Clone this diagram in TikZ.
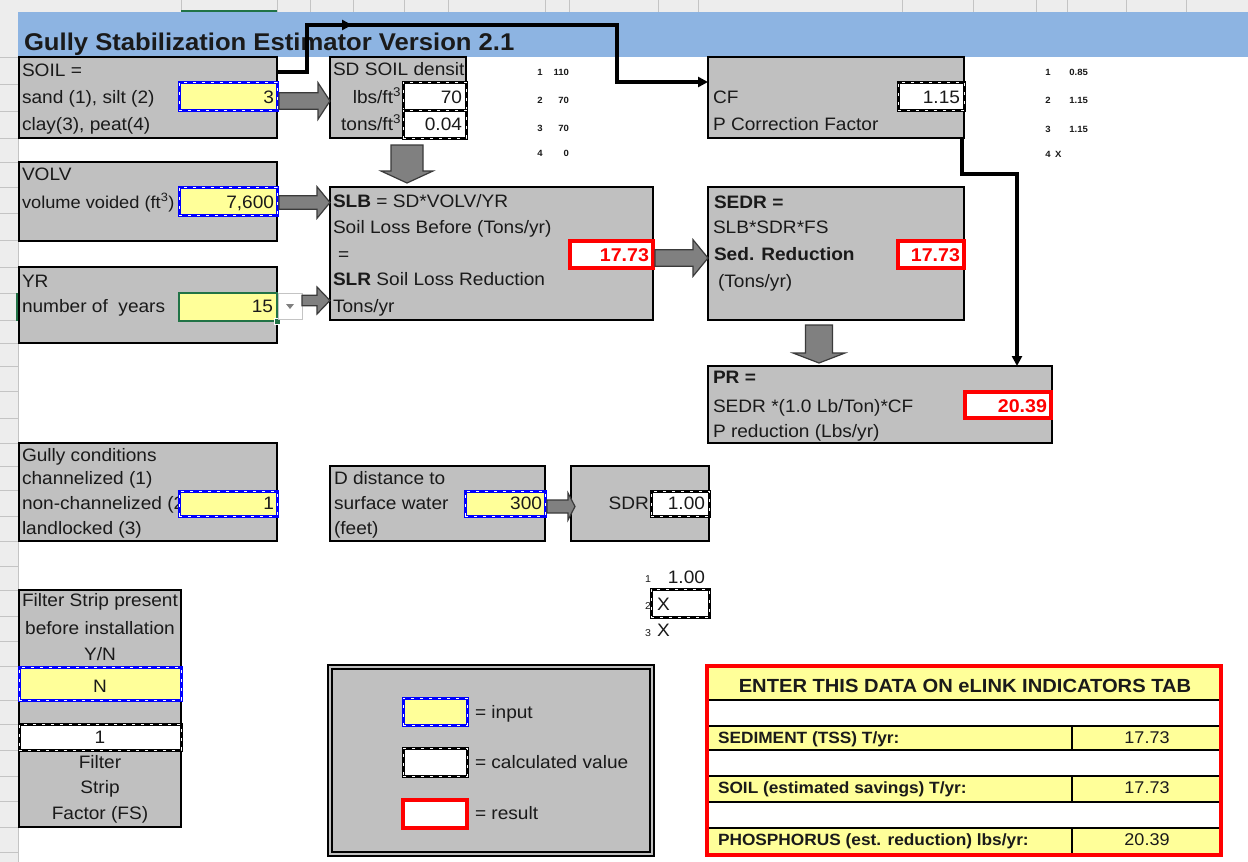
\documentclass[tikz,border=0pt]{standalone}
\usepackage{fontspec}
\setmainfont{Liberation Sans}[FakeStretch=1.06]
\usetikzlibrary{arrows.meta,calc}
\definecolor{band}{HTML}{8DB4E2}
\definecolor{boxgray}{HTML}{C0C0C0}
\definecolor{inyel}{HTML}{FFFF99}
\definecolor{arrgray}{HTML}{808080}
\definecolor{arredge}{HTML}{3A3A3A}
\definecolor{selgreen}{HTML}{217346}
\definecolor{hdrgray}{HTML}{EDEDED}
\definecolor{hdrline}{HTML}{C4C4C4}
\definecolor{ink}{HTML}{1A1A1A}
\newcommand\fnorm{\fontsize{18}{21}\selectfont}
\newcommand\fbig{\fontsize{24.2}{28}\selectfont\bfseries}
\newcommand\ftiny{\fontsize{9}{10}\selectfont\bfseries}
\newcommand\fsmall{\fontsize{10}{11}\selectfont}
\newcommand\fhead{\fontsize{19}{22}\selectfont\bfseries}
\newcommand\flab{\fontsize{16.3}{18}\selectfont\bfseries}
\newcommand\fval{\fontsize{17}{19}\selectfont}
\newcommand\fres{\fontsize{18.5}{21}\selectfont\bfseries}
\tikzset{
  bx/.style={inner sep=0pt, outer sep=0pt, anchor=north west},
  box/.style={bx, draw=black, fill=boxgray, line width=2pt},
  inbox/.style={bx, draw=blue, fill=inyel, line width=3pt,
    postaction={draw=white, line width=0.7pt, dash pattern=on 3pt off 6pt}},
  selbox/.style={bx, draw=selgreen, fill=inyel, line width=2.4pt},
  calcbox/.style={bx, draw=black, fill=white, line width=3pt,
    postaction={draw=white, line width=0.7pt, dash pattern=on 3pt off 6pt}},
  resbox/.style={bx, draw=red, fill=white, line width=3.6pt},
  tyel/.style={bx, draw=black, fill=inyel, line width=1.1pt},
  twhite/.style={bx, draw=black, fill=white, line width=1.1pt},
  tframe/.style={bx, draw=red, line width=3.4pt},
  txt/.style={inner sep=0pt, outer sep=0pt, anchor=base west, font=\fnorm, text=ink},
  txr/.style={txt, anchor=base east},
  txc/.style={txt, anchor=base},
  barrow/.style={fill=arrgray, draw=arredge, line width=1.2pt, line join=miter},
  conn/.style={draw=black, line width=3.3pt, line join=miter, -{Triangle[length=10pt,width=10pt]}},
}
\newcommand\cell[6]{\node[#1, minimum width={(#5)-(#3)}, minimum height={(#6)-(#4)}] (#2) at (#3,#4) {};}
\newcommand\blockR[6]{% x1 x2 yc shafthalf headhalf headlen
  \draw[barrow] (#1,#3-#4) -- (#2-#6,#3-#4) -- (#2-#6,#3-#5) -- (#2,#3) -- (#2-#6,#3+#5) -- (#2-#6,#3+#4) -- (#1,#3+#4) -- cycle;}
\newcommand\blockD[6]{% xc ytop ytip shafthalf headhalf headlen
  \draw[barrow] (#1-#4,#2) -- (#1+#4,#2) -- (#1+#4,#3-#6) -- (#1+#5,#3-#6) -- (#1,#3) -- (#1-#5,#3-#6) -- (#1-#4,#3-#6) -- cycle;}
\begin{document}
\begin{tikzpicture}[x=1pt,y=-1pt]
\useasboundingbox (0,0) rectangle (1248,862);
\fill[white] (0,0) rectangle (1248,862);
% spreadsheet headers
\fill[hdrgray] (0,0) rectangle (1248,12);
\draw[hdrline, line width=0.8pt] (0,12) -- (1248,12);
\foreach \x in {181,277,310,353,404,448,545,569,658,698,902,973,1036,1067,1126,1186}
  \draw[hdrline, line width=0.8pt] (\x,0) -- (\x,12);
\draw[selgreen, line width=2pt] (181,11) -- (277,11);
\fill[hdrgray] (0,12) rectangle (18,862);
\draw[hdrline, line width=0.8pt] (18,12) -- (18,862);
\foreach \y in {57,84,111,138,162,187,213,240,267,293,320,343,366,391,418,443,466,490,516,541,566,590,616,641,666,700,724,750,776,801,827,852}
  \draw[hdrline, line width=0.8pt] (0,\y) -- (18,\y);
\draw[selgreen, line width=2pt] (17,293) -- (17,321);
% title band
\fill[band] (18.4,12.4) rectangle (1248,57);
\node[txt, font=\fbig] (title) at (24,50) {Gully Stabilization Estimator Version 2.1};

% SOIL
\cell{box}{soil}{19}{57}{277}{138}
\node[txt] (soilt1) at (22,76) {SOIL =};
\node[txt] (soilt2) at (22,103) {sand (1), silt (2)};
\node[txt] (soilt3) at (22,130) {clay(3), peat(4)};
\cell{inbox}{soilin}{179}{82}{277}{110}
\node[txr] (soilv) at (274,103) {3};

% SD
\cell{box}{sd}{330}{57}{466}{138}
\node[txt] (sdt1) at (333,75) {SD SOIL densit};
\node[txr] (sdt2) at (401,103) {lbs/ft\textsuperscript{3}};
\node[txr] (sdt3) at (401,130) {tons/ft\textsuperscript{3}};
\cell{calcbox}{sdlbs}{403}{82}{466}{110}
\cell{calcbox}{sdtons}{403}{110}{466}{138}
\node[txr] (sdv1) at (462,103) {70};
\node[txr] (sdv2) at (462,130) {0.04};

% small lookup numbers
\node[txc, font=\ftiny] (la1) at (540,75) {1};
\node[txr, font=\ftiny] (lb1) at (569,75) {110};
\node[txc, font=\ftiny] (la2) at (540,103) {2};
\node[txr, font=\ftiny] (lb2) at (569,103) {70};
\node[txc, font=\ftiny] (la3) at (540,131) {3};
\node[txr, font=\ftiny] (lb3) at (569,131) {70};
\node[txc, font=\ftiny] (la4) at (540,156) {4};
\node[txr, font=\ftiny] (lb4) at (569,156) {0};

% CF
\cell{box}{cf}{708}{57}{964}{138}
\node[txt] (cft1) at (713,103) {CF};
\node[txt] (cft2) at (713,130) {P Correction Factor};
\cell{calcbox}{cfv}{898}{82}{964}{110}
\node[txr] (cfvt) at (960,103) {1.15};
\node[txc, font=\ftiny] (ra1) at (1048,75) {1};
\node[txr, font=\ftiny] (rb1) at (1088,75) {0.85};
\node[txc, font=\ftiny] (ra2) at (1048,103) {2};
\node[txr, font=\ftiny] (rb2) at (1088,103) {1.15};
\node[txc, font=\ftiny] (ra3) at (1048,132) {3};
\node[txr, font=\ftiny] (rb3) at (1088,132) {1.15};
\node[txc, font=\ftiny] (ra4) at (1048,157) {4};
\node[txt, font=\ftiny] (rb4) at (1055,157) {X};

% VOLV
\cell{box}{volv}{19}{162}{277}{241}
\node[txt] (volvt1) at (22,180) {VOLV};
\node[txt, font=\fontsize{17.2}{20}\selectfont] (volvt2) at (22,208) {volume voided (ft\textsuperscript{3})};
\cell{inbox}{volvin}{179}{187}{277}{215}
\node[txr] (volvv) at (274,208) {7,600};

% YR
\cell{box}{yr}{19}{267}{277}{343}
\node[txt] (yrt1) at (22,287) {YR};
\node[txt] (yrt2) at (22,312) {number of~~years};
\cell{selbox}{yrin}{179}{293}{277}{321}
\node[txr] (yrv) at (273,312) {15};
\fill[selgreen, draw=white, line width=0.8pt] (274,318) rectangle (280.5,324.5);
\node[bx, draw=hdrline, fill=white, line width=1pt, minimum width=24pt, minimum height=26pt] (dd) at (278.5,293) {};
\fill[gray] (286,304) -- (294,304) -- (290,309) -- cycle;

% SLB
\cell{box}{slb}{330}{187}{653}{320}
\node[txt] (slbt1) at (333,207) {\textbf{SLB} = SD*VOLV/YR};
\node[txt] (slbt2) at (333,233) {Soil Loss Before (Tons/yr)};
\node[txt] (slbt3) at (338,260) {=};
\node[txt] (slbt4) at (333,285) {\textbf{SLR} Soil Loss Reduction};
\node[txt] (slbt5) at (333,312) {Tons/yr};
\cell{resbox}{slbres}{570}{241}{653}{268}
\node[txr, font=\fres, text=red] (slbv) at (649,261) {17.73};

% SEDR
\cell{box}{sedr}{708}{187}{964}{320}
\node[txt] (sedrt1) at (714,208) {\textbf{SEDR =}};
\node[txt] (sedrt2) at (713,233) {SLB*SDR*FS};
\node[txt] (sedrt3) at (714,260) {\textbf{Sed. Reduction}};
\node[txt] (sedrt4) at (718,287) {(Tons/yr)};
\cell{resbox}{sedrres}{898}{241}{964}{268}
\node[txr, font=\fres, text=red] (sedrv) at (960,261) {17.73};

% PR
\cell{box}{pr}{708}{366}{1052}{443}
\node[txt] (prt1) at (713,383) {\textbf{PR =}};
\node[txt] (prt2) at (713,412) {SEDR *(1.0 Lb/Ton)*CF};
\node[txt] (prt3) at (713,437) {P reduction (Lbs/yr)};
\cell{resbox}{prres}{965}{392}{1051}{418}
\node[txr, font=\fres, text=red] (prv) at (1047,412) {20.39};

% Gully conditions
\cell{box}{gully}{19}{443}{277}{541}
\node[txt] (gt1) at (22,461) {Gully conditions};
\node[txt] (gt2) at (22,484) {channelized (1)};
\node[txt] (gt3) at (22,509) {non-channelized (2)};
\node[txt] (gt4) at (22,534) {landlocked (3)};
\cell{inbox}{gullyin}{179}{491}{277}{516}
\node[txr] (gv) at (274,509) {1};

% D distance
\cell{box}{dist}{330}{466}{545}{541}
\node[txt] (dt1) at (334,484) {D distance to};
\node[txt] (dt2) at (334,509) {surface water};
\node[txt] (dt3) at (334,534) {(feet)};
\cell{inbox}{distin}{465}{491}{545}{516}
\node[txr] (dv) at (542,509) {300};

% SDR
\cell{box}{sdr}{571}{466}{709}{541}
\node[txr] (sdrt) at (649,509) {SDR};
\cell{calcbox}{sdrv}{651}{491}{709}{516}
\node[txr] (sdrvt) at (705,509) {1.00};

% SDR lookup
\node[txc, font=\fsmall] (s1) at (648,582) {1};
\node[txr] (s1v) at (705,583) {1.00};
\cell{calcbox}{sx}{651}{589}{709}{617}
\node[txt] (sxt) at (657,610) {X};
\node[txc, font=\fsmall] (s2) at (648,609) {2};
\node[txc, font=\fsmall] (s3) at (648,636) {3};
\node[txt] (s3x) at (657,636) {X};

% Filter strip
\cell{box}{filt}{19}{590}{181}{827}
\node[txc] (ft1) at (100,606) {Filter Strip present};
\node[txc] (ft2) at (100,634) {before installation};
\node[txc] (ft3) at (100,660) {Y/N};
\cell{inbox}{filtin}{19}{667}{181}{700}
\node[txc] (fv) at (100,692) {N};
\cell{calcbox}{filtfs}{19}{724}{181}{750}
\node[txc] (ffs) at (100,743) {1};
\node[txc] (ft4) at (100,768) {Filter};
\node[txc] (ft5) at (100,793) {Strip};
\node[txc] (ft6) at (100,819) {Factor (FS)};

% Legend
\cell{box}{legend}{328}{665}{654}{856}
\draw[black, line width=1.3pt] (332,669) rectangle (650,852);
\cell{inbox}{leg1}{403}{698}{467}{725}
\node[txt] (leg1t) at (475,718) {= input};
\cell{calcbox}{leg2}{403}{748}{467}{776}
\node[txt] (leg2t) at (475,768) {= calculated value};
\cell{resbox}{leg3}{403}{800}{467}{828}
\node[txt] (leg3t) at (475,819) {= result};

% eLINK table
\cell{tyel}{thead}{708}{667}{1220}{700}
\cell{twhite}{tg1}{708}{700}{1220}{726}
\cell{tyel}{tsl}{708}{726}{1072}{750}
\cell{tyel}{tsv}{1072}{726}{1220}{750}
\cell{twhite}{tg2}{708}{750}{1220}{776}
\cell{tyel}{tol}{708}{776}{1072}{802}
\cell{tyel}{tov}{1072}{776}{1220}{802}
\cell{twhite}{tg3}{708}{802}{1220}{828}
\cell{tyel}{tpl}{708}{828}{1072}{854}
\cell{tyel}{tpv}{1072}{828}{1220}{854}
\cell{tframe}{tab}{707}{666}{1221}{855}
\node[txc, font=\fhead] (theadt) at (965,692) {ENTER THIS DATA ON eLINK INDICATORS TAB};
\node[txt, font=\flab] (tslt) at (718,743) {SEDIMENT (TSS) T/yr:};
\node[txc, font=\fval] (tsvt) at (1147,743) {17.73};
\node[txt, font=\flab] (tolt) at (718,793) {SOIL (estimated savings) T/yr:};
\node[txc, font=\fval] (tovt) at (1147,793) {17.73};
\node[txt, font=\flab] (tplt) at (718,845) {PHOSPHORUS (est. reduction) lbs/yr:};
\node[txc, font=\fval] (tpvt) at (1147,845) {20.39};

% block arrows
\blockR{279}{330}{101}{8.3}{18.3}{12}
\blockD{407}{145}{183}{16}{26}{12}
\blockR{279}{330}{202.5}{6.8}{15.8}{13}
\blockR{302}{330}{300.5}{5.3}{13.5}{13}
\blockR{655}{708}{258}{8.3}{18.3}{15}
\blockD{819}{325}{363}{13.5}{26}{10}
\blockR{547}{575}{506.5}{6.5}{13.5}{7}

% connectors
\coordinate (p1) at (307,72);
\coordinate (p2) at (307,25);
\coordinate (pm) at (352,25);
\coordinate (p3) at (617,25);
\coordinate (p4) at (617,82);
\draw[conn] (soil.east |- p1) -- (p1) -- (p2) -- (p3) -- (p4) -- (cf.west |- p4);
\draw[conn] (p2) -- (pm);
\coordinate (q1) at (962,174);
\coordinate (q2) at (1017,174);
\draw[conn] (q1 |- cf.south) -- (q1) -- (q2) -- (q2 |- pr.north);
\end{tikzpicture}
\end{document}
